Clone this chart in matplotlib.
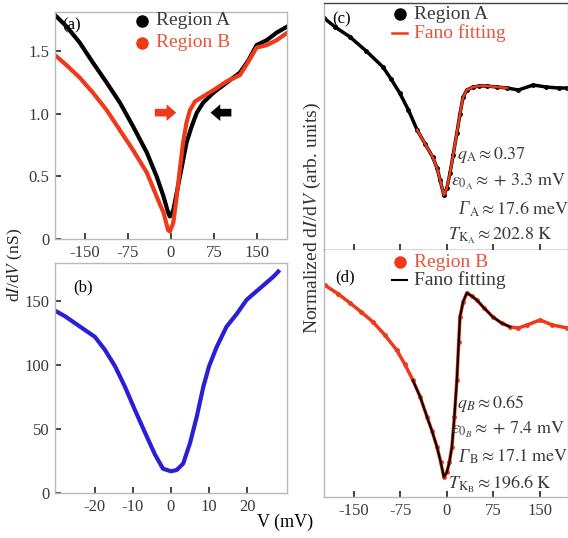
import matplotlib.pyplot as plt
import numpy as np

plt.rcParams['font.family'] = ['Liberation Serif', 'DejaVu Serif']
plt.rcParams['mathtext.fontset'] = 'stix'
plt.rcParams['axes.unicode_minus'] = False

# ---- panel (a): dI/dV (nS) vs V (mV)
va = [-202, -182, -159, -136, -112, -89, -66, -42, -25, -13, -5, -2, 4, 10, 19, 27, 36, 45, 56, 74, 97, 120, 135, 149, 167, 184, 203]
ga = [1.79, 1.70, 1.57, 1.41, 1.25, 1.09, 0.90, 0.69, 0.50, 0.34, 0.21, 0.18, 0.23, 0.37, 0.58, 0.77, 0.90, 1.01, 1.09, 1.17, 1.25, 1.33, 1.43, 1.55, 1.59, 1.65, 1.70]
vb = [-202, -182, -159, -136, -112, -89, -66, -42, -25, -13, -5, -2, 4, 10, 16, 21, 27, 33, 42, 56, 74, 97, 120, 135, 149, 167, 184, 203]
gb = [1.47, 1.39, 1.29, 1.17, 1.03, 0.87, 0.71, 0.53, 0.34, 0.21, 0.07, 0.06, 0.13, 0.34, 0.58, 0.77, 0.93, 1.03, 1.10, 1.14, 1.19, 1.26, 1.31, 1.42, 1.53, 1.55, 1.59, 1.65]

# ---- panel (b)
vbl = [-30.8, -27.8, -24.4, -20.0, -17.4, -14.7, -12.1, -9.5, -6.8, -4.2, -2.1, 0, 1.5, 3.2, 5.0, 6.8, 8.5, 10.0, 12.0, 14.6, 17.3, 19.9, 23.4, 26.9, 28.2]
gbl = [143, 138, 131, 122, 112, 99, 83, 65, 47, 30, 19, 17, 18, 23, 39, 60, 83, 99, 114, 130, 140, 151, 160, 169, 173]

# ---- panel (c): Region A normalized
vc = [-198, -180, -156, -130, -103, -90, -76, -62, -48, -35, -23, -16, -11, -5, 0, 5, 10, 16, 21, 26, 32, 42, 52, 65, 80, 97, 115, 139, 160, 180, 194]
nc = [2.32, 2.23, 2.13, 1.99, 1.83, 1.71, 1.57, 1.40, 1.20, 1.06, 0.93, 0.82, 0.70, 0.55, 0.62, 0.77, 0.95, 1.17, 1.36, 1.53, 1.60, 1.63, 1.64, 1.64, 1.63, 1.62, 1.60, 1.65, 1.63, 1.62, 1.62]
fit_c = slice(8, 26)

# ---- panel (d): Region B normalized
vd = [-197, -175, -156, -138, -119, -100, -81, -68, -55, -43, -32, -24, -16, -10, -5, 0, 4, 8, 12, 16, 19, 21, 26, 32, 40, 48, 60, 74, 88, 102, 115, 129, 150, 170, 194]
nd = [2.12, 2.03, 1.94, 1.85, 1.75, 1.62, 1.47, 1.33, 1.17, 1.00, 0.80, 0.66, 0.50, 0.35, 0.20, 0.25, 0.35, 0.50, 0.80, 1.17, 1.55, 1.80, 1.95, 2.04, 2.01, 1.97, 1.89, 1.80, 1.74, 1.70, 1.69, 1.72, 1.77, 1.72, 1.69]
fit_d = slice(8, 30)

params_c = [('A', r'$q_{\rm A}\approx 0.37$', r'$\epsilon_{0_{\rm A}}\approx +\,3.3\ {\rm mV}$',
             r'${}_{\rm A}\approx 17.6\ {\rm meV}$', r'$T_{\rm K_A}\approx 202.8\ {\rm K}$')]
params_d = [('B', r'$q_{B}\approx 0.65$', r'$\epsilon_{0_{B}}\approx +\,7.4\ {\rm mV}$',
             r'${}_{\rm B}\approx 17.1\ {\rm meV}$', r'$T_{\rm K_B}\approx 196.6\ {\rm K}$')]

txt = '#3a3a3a'
frame = '#b8b8b8'
red = '#ee3a1a'

fig = plt.figure(figsize=(5.68, 5.38), dpi=100)


def style(ax, spines_col=frame):
    for s in ax.spines.values():
        s.set_color(spines_col)
        s.set_linewidth(1.0)
    ax.tick_params(direction='in', length=4, width=1.2, color='#222222',
                   labelsize=12, labelcolor=txt, pad=4)


def fano_text(ax, params, y0):
    # y0: pixel row of first line, relative to axes bottom in px
    _, q, eps, gam, tk = params[0]
    xs = [457, 451, 458, 448]
    for i, s in enumerate([q, eps, None, tk]):
        x = (xs[i] - 324) / 244
        y = (y0 - 27 * i) / 247
        if s is None:
            ax.text(x, y, '\u0393', transform=ax.transAxes, fontsize=13, color=txt,
                    va='center', style='italic')
            ax.annotate(gam, xy=(x, y), xycoords='axes fraction', xytext=(8, 0),
                        textcoords='offset points', fontsize=13, color=txt, va='center')
        else:
            ax.text(x, y, s, transform=ax.transAxes, fontsize=13, color=txt, va='center')


# (a)
axa = fig.add_axes([0.0968, 0.5558, 0.4085, 0.4222])
axa.plot(va, ga, color='black', lw=3)
axa.plot(vb, gb, color=red, lw=3)
axa.set_xlim(-202, 202)
axa.set_ylim(0, 1.816)
axa.set_xticks([-150, -75, 0, 75, 150])
axa.set_yticks([0, 0.5, 1.0, 1.5])
axa.set_yticklabels(['0', '0.5', '1.0', '1.5'])
style(axa)
axa.text(0.03, 0.975, '(a)', transform=axa.transAxes, fontsize=12, color='black', va='top')
axa.plot([0.375], [0.96], 'o', color='black', ms=8, transform=axa.transAxes)
axa.text(0.435, 0.96, 'Region A', transform=axa.transAxes, fontsize=14, color=txt, va='center')
axa.plot([0.375], [0.865], 'o', color=red, ms=8, transform=axa.transAxes)
axa.text(0.435, 0.865, 'Region B', transform=axa.transAxes, fontsize=14, color='#e8553a', va='center')
axa.annotate('', xy=(14, 1.01), xytext=(-33, 1.01),
             arrowprops=dict(arrowstyle='simple,head_width=1.2,head_length=0.7,tail_width=0.55', color=red, lw=0))
axa.annotate('', xy=(64, 1.01), xytext=(110, 1.01),
             arrowprops=dict(arrowstyle='simple,head_width=1.2,head_length=0.7,tail_width=0.55', color='black', lw=0))

# (b)
axb = fig.add_axes([0.0968, 0.0836, 0.4085, 0.4275])
axb.plot(vbl, gbl, color='#2a1fd6', lw=3)
axb.set_xlim(-30.5, 30.5)
axb.set_ylim(0, 179.7)
axb.set_xticks([-20, -10, 0, 10, 20])
axb.set_yticks([0, 50, 100, 150])
style(axb)
axb.text(0.08, 0.93, '(b)', transform=axb.transAxes, fontsize=12, color='black', va='top')

# (c)
axc = fig.add_axes([0.5704, 0.5353, 0.4296, 0.4591])
axc.plot(vc, nc, color='black', lw=2.5, marker='o', ms=2.5)
axc.plot(vc[fit_c], nc[fit_c], color=red, lw=1.8)
axc.set_xlim(-198, 195)
axc.set_ylim(0, 2.47)
axc.set_xticks([-150, -75, 0, 75, 150])
axc.set_xticklabels([])
axc.set_yticks([])
style(axc)
axc.spines['top'].set_color('#444444')
axc.spines['bottom'].set_color('#444444')
axc.text(0.035, 0.965, '(c)', transform=axc.transAxes, fontsize=12, color='black', va='top')
axc.plot([0.31], [0.955], 'o', color='black', ms=8, transform=axc.transAxes)
axc.text(0.37, 0.955, 'Region A', transform=axc.transAxes, fontsize=14, color=txt, va='center')
axc.plot([0.28, 0.34], [0.88, 0.88], color=red, lw=1.8, transform=axc.transAxes)
axc.text(0.37, 0.88, 'Fano fitting', transform=axc.transAxes, fontsize=14, color='#e8553a', va='center')
fano_text(axc, params_c, 250 - 155)

# (d)
axd = fig.add_axes([0.5704, 0.0762, 0.4296, 0.4591])
axd.plot(vd, nd, color=red, lw=2.5, marker='o', ms=2.5)
axd.plot(vd[fit_d], nd[fit_d], color='black', lw=1.5)
axd.set_xlim(-198, 195)
axd.set_ylim(0, 2.47)
axd.set_xticks([-150, -75, 0, 75, 150])
axd.set_yticks([])
style(axd)
axd.spines['top'].set_visible(False)
axd.text(0.045, 0.92, '(d)', transform=axd.transAxes, fontsize=12, color='black', va='top')
axd.plot([0.31], [0.95], 'o', color=red, ms=8, transform=axd.transAxes)
axd.text(0.37, 0.95, 'Region B', transform=axd.transAxes, fontsize=14, color='#e8553a', va='center')
axd.plot([0.28, 0.34], [0.877, 0.877], color='black', lw=1.5, transform=axd.transAxes)
axd.text(0.37, 0.877, 'Fano fitting', transform=axd.transAxes, fontsize=14, color=txt, va='center')
fano_text(axd, params_d, 497 - 403)

fig.text(0.027, 1 - 265 / 538, r'd$I$/d$V$ (nS)', rotation=90, fontsize=12.5, color='#222222',
         ha='center', va='center')
fig.text(312 / 568, 1 - 218 / 538, r'Normalized d$I$/d$V$ (arb. units)', rotation=90, fontsize=14,
         color='#333333', ha='center', va='center')
fig.text(0.502, 0.03, 'V (mV)', fontsize=13, color='black', ha='center', va='center')

fig.savefig('out.png', dpi=100)
